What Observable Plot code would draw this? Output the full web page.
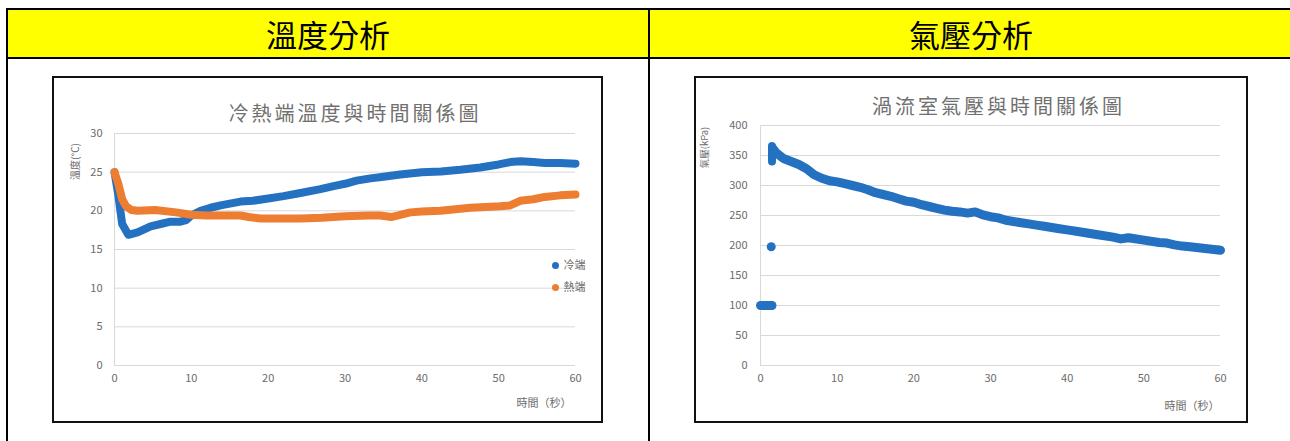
<!DOCTYPE html>
<html><head><meta charset="utf-8">
<script src="https://cdn.jsdelivr.net/npm/d3@7"></script>
<script src="https://cdn.jsdelivr.net/npm/@observablehq/plot@0.6"></script>
<style>
body{margin:0;background:#fff;font-family:"Noto Sans CJK TC","Noto Sans",sans-serif;}
#page{position:relative;width:1290px;height:441px;overflow:hidden;background:#fff;}
.ln{position:absolute;background:#000;}
.head{position:absolute;top:10px;height:47px;background:#ffff00;display:flex;align-items:center;justify-content:center;font-size:31px;color:#000;line-height:1;}
.box{position:absolute;border:2px solid #111;box-sizing:border-box;background:#fff;}
.chart{position:absolute;}
</style>
</head><body>
<div id="page">
  <div class="head" style="left:8px;width:640px;">溫度分析</div>
  <div class="head" style="left:650px;width:642px;">氣壓分析</div>
  <div class="ln" style="left:6px;top:8px;width:1290px;height:2px;"></div>
  <div class="ln" style="left:6px;top:57px;width:1290px;height:2px;"></div>
  <div class="ln" style="left:6px;top:8px;width:2px;height:440px;"></div>
  <div class="ln" style="left:648px;top:8px;width:2px;height:440px;"></div>
  <div class="box" style="left:52px;top:76px;width:551px;height:347px;"></div>
  <div class="box" style="left:694px;top:76px;width:554px;height:347px;"></div>
  <div class="chart" id="c1" style="left:54px;top:78px;"></div>
  <div class="chart" id="c2" style="left:696px;top:78px;"></div>
</div>
<script>
// ---- data ----
const headers = ["溫度分析", "氣壓分析"];
const tempTitle = "冷熱端溫度與時間關係圖";
const pressTitle = "渦流室氣壓與時間關係圖";
const xTitle = "時間（秒）";
const tempYTitle = "溫度(°C)";
const pressYTitle = "氣壓(kPa)";
const seriesNames = ["冷端", "熱端"];
const xTicks = [0, 10, 20, 30, 40, 50, 60];
const tempTicks = [0, 5, 10, 15, 20, 25, 30];
const pressTicks = [0, 50, 100, 150, 200, 250, 300, 350, 400];

const coldTime = [0, 0.5, 1.0, 1.8, 3, 4.7, 6, 7.3, 8.6, 9.3, 10, 11.2, 12.5, 13.8, 16.4, 18, 20, 22, 24.2, 26.8, 28.5, 30, 31.5, 33.3, 35, 37.2, 40, 42.5, 45, 47.6, 50, 51.5, 52.8, 54.5, 56, 58, 60];
const coldTemp = [25.0, 22.0, 18.3, 16.9, 17.2, 18.0, 18.3, 18.6, 18.6, 18.8, 19.4, 20.0, 20.4, 20.7, 21.2, 21.3, 21.6, 21.9, 22.3, 22.8, 23.2, 23.5, 23.9, 24.2, 24.4, 24.7, 25.0, 25.1, 25.3, 25.6, 26.0, 26.3, 26.4, 26.3, 26.2, 26.2, 26.1];

const hotTime = [0, 0.5, 1.0, 1.5, 2.2, 3, 5.3, 8, 10, 12, 13.8, 16.4, 17.5, 19, 21, 24.2, 27, 30, 33, 34.6, 36, 38.5, 40, 42.4, 46.3, 50.2, 51.5, 52.8, 54.5, 56, 58, 60];
const hotTemp = [25.0, 23.5, 21.5, 20.6, 20.1, 20.0, 20.1, 19.8, 19.5, 19.4, 19.4, 19.4, 19.2, 19.0, 19.0, 19.0, 19.1, 19.3, 19.4, 19.4, 19.2, 19.8, 19.9, 20.0, 20.4, 20.6, 20.7, 21.3, 21.5, 21.8, 22.0, 22.1];

const pressBaseTime = [0, 0.4, 0.8, 1.2, 1.5];
const pressBaseValue = [100, 100, 100, 100, 100];
const pressJumpTime = [1.5, 1.5, 1.6];
const pressJumpValue = [340, 366, 362];
const pressOutlierTime = [1.4];
const pressOutlierValue = [198];
const pressTime = [1.6, 2, 2.5, 3, 4, 5, 6, 7, 8, 9, 10, 11, 12, 13, 14, 15, 16, 17, 18, 19, 20, 21, 22, 23, 24, 25, 26, 27, 28, 29, 30, 31, 32, 33, 34, 35, 36, 37, 38, 39, 40, 42, 44, 46, 47, 48, 50, 52, 53, 54, 55, 56, 58, 60];
const pressValue = [362, 355, 350, 345, 340, 335, 328, 318, 312, 308, 306, 303, 300, 297, 293, 288, 285, 282, 278, 274, 272, 268, 265, 262, 259, 257, 256, 254, 256, 251, 248, 246, 242, 240, 238, 236, 234, 232, 230, 228, 226, 222, 218, 214, 211, 213, 209, 205, 204, 201, 199, 198, 195, 192];

const blue = "#2471c1";
const orange = "#ed7d31";
const gridColor = "#d9d9d9";
const textGray = "#6b6b6b";
const font = "'Noto Sans CJK TC', 'Noto Sans', sans-serif";

const zip = (xs, ys, extra = {}) => xs.map((x, i) => ({x, y: ys[i], ...extra}));

// ---- temperature chart ----
const cold = zip(coldTime, coldTemp);
const hot = zip(hotTime, hotTemp);

const c1 = Plot.plot({
  width: 546, height: 343,
  marginLeft: 60, marginRight: 25, marginTop: 55, marginBottom: 56,
  style: {fontFamily: font, fontSize: "11px", color: textGray, background: "transparent"},
  x: {domain: [0, 60], ticks: xTicks, tickSize: 0, tickPadding: 9, label: null},
  y: {domain: [0, 30], ticks: tempTicks, tickSize: 0, tickPadding: 12, label: null},
  marks: [
    Plot.ruleY(tempTicks, {stroke: gridColor, strokeWidth: 1}),
    Plot.ruleX([0], {stroke: gridColor, strokeWidth: 1}),
    Plot.line(cold, {x: "x", y: "y", stroke: blue, strokeWidth: 8, strokeLinecap: "round", strokeLinejoin: "round"}),
    Plot.line(hot, {x: "x", y: "y", stroke: orange, strokeWidth: 8, strokeLinecap: "round", strokeLinejoin: "round"}),
    Plot.text([tempTitle], {frameAnchor: "top", textAnchor: "middle", lineAnchor: "middle", dx: 10, dy: -19, fontSize: 20, fill: "#707070", text: d => d}),
    Plot.text([tempYTitle], {frameAnchor: "top-left", textAnchor: "middle", lineAnchor: "middle", dx: -39, dy: 28, rotate: -90, fontSize: 10, fill: textGray, text: d => d}),
    Plot.text([xTitle], {frameAnchor: "bottom-right", textAnchor: "end", lineAnchor: "middle", dx: -4, dy: 38, fontSize: 11, fill: textGray, text: d => d}),
    Plot.dot([seriesNames[0]], {frameAnchor: "right", dx: -20, dy: 16, r: 3.5, fill: blue}),
    Plot.text([seriesNames[0]], {frameAnchor: "right", textAnchor: "start", lineAnchor: "middle", dx: -12, dy: 16, fontSize: 11, fill: textGray, text: d => d}),
    Plot.dot([seriesNames[1]], {frameAnchor: "right", dx: -20, dy: 38, r: 3.5, fill: orange}),
    Plot.text([seriesNames[1]], {frameAnchor: "right", textAnchor: "start", lineAnchor: "middle", dx: -12, dy: 38, fontSize: 11, fill: textGray, text: d => d})
  ]
});
document.getElementById("c1").appendChild(c1);

// ---- pressure chart ----
const c2 = Plot.plot({
  width: 550, height: 343,
  marginLeft: 64, marginRight: 26, marginTop: 47, marginBottom: 56,
  style: {fontFamily: font, fontSize: "11px", color: textGray, background: "transparent"},
  x: {domain: [0, 60], ticks: xTicks, tickSize: 0, tickPadding: 9, label: null},
  y: {domain: [0, 400], ticks: pressTicks, tickSize: 0, tickPadding: 13, label: null},
  marks: [
    Plot.ruleY(pressTicks, {stroke: gridColor, strokeWidth: 1}),
    Plot.ruleX([0], {stroke: gridColor, strokeWidth: 1}),
    Plot.line(zip(pressBaseTime, pressBaseValue), {x: "x", y: "y", stroke: blue, strokeWidth: 9, strokeLinecap: "round"}),
    Plot.line(zip(pressJumpTime, pressJumpValue), {x: "x", y: "y", stroke: blue, strokeWidth: 8, strokeLinecap: "round", strokeLinejoin: "round"}),
    Plot.dot(zip(pressOutlierTime, pressOutlierValue), {x: "x", y: "y", r: 4.5, fill: blue}),
    Plot.line(zip(pressTime, pressValue), {x: "x", y: "y", stroke: blue, strokeWidth: 9, strokeLinecap: "round", strokeLinejoin: "round"}),
    Plot.text([pressTitle], {frameAnchor: "top", textAnchor: "middle", lineAnchor: "middle", dx: 8, dy: -18, fontSize: 20, fill: "#707070", text: d => d}),
    Plot.text([pressYTitle], {frameAnchor: "top-left", textAnchor: "middle", lineAnchor: "middle", dx: -56, dy: 22, rotate: -90, fontSize: 9.5, fill: textGray, text: d => d}),
    Plot.text([xTitle], {frameAnchor: "bottom-right", textAnchor: "end", lineAnchor: "middle", dx: -1, dy: 41, fontSize: 11, fill: textGray, text: d => d})
  ]
});
document.getElementById("c2").appendChild(c2);

// widen the Excel-style chart titles
[[c1, tempTitle], [c2, pressTitle]].forEach(([svg, t]) => {
  d3.select(svg).selectAll("text").filter(function () { return this.textContent === t; })
    .style("letter-spacing", "3px");
});
</script>
</body></html>
